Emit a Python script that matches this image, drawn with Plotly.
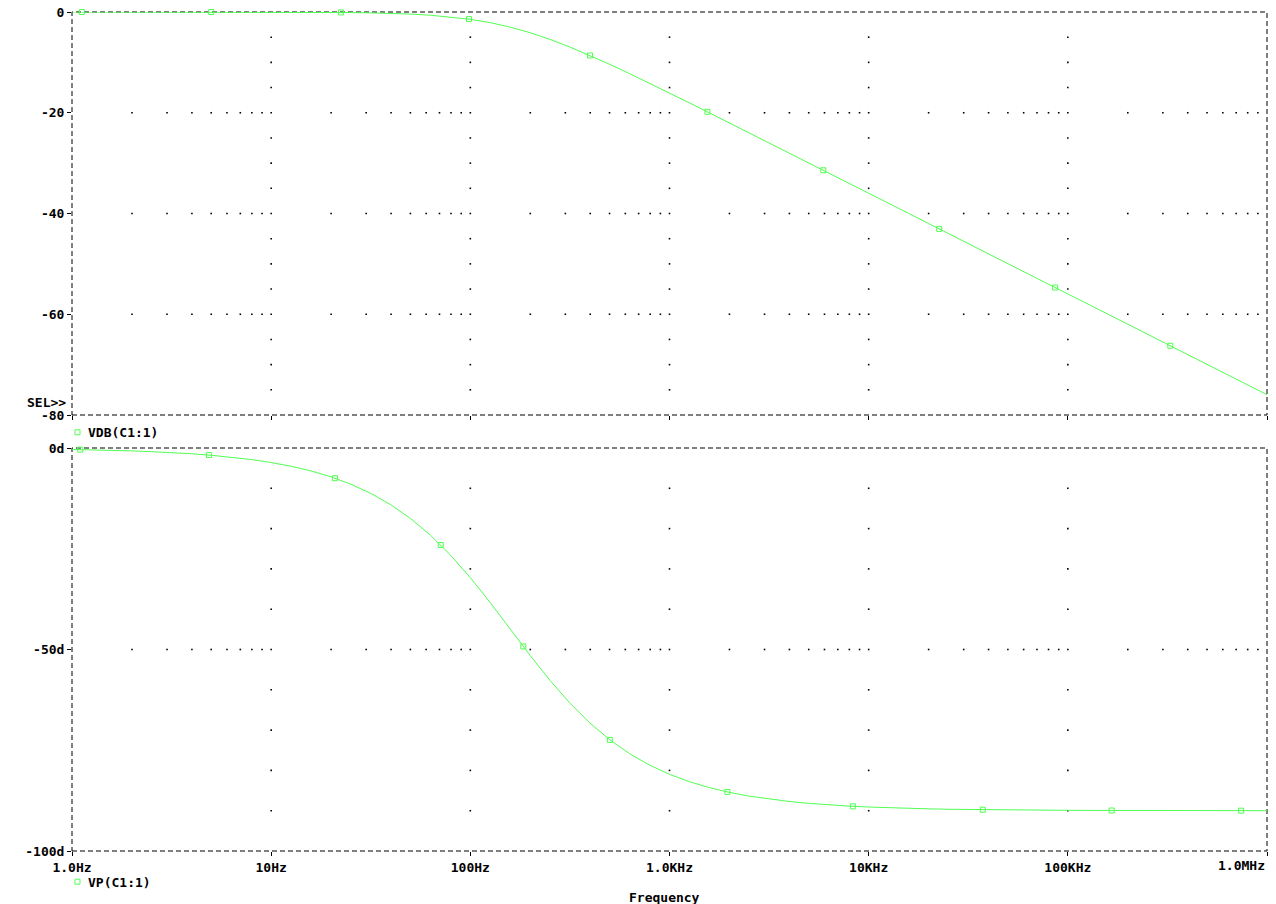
import plotly.graph_objects as go
from plotly.subplots import make_subplots

# ---- data ----
freq_hz = [1, 1.2589, 1.5849, 1.9953, 2.5119, 3.1623, 3.9811, 5.0119, 6.3096, 7.9433,
           10, 12.589, 15.849, 19.953, 25.119, 31.623, 39.811, 50.119, 63.096, 79.433,
           100, 125.89, 158.49, 199.53, 251.19, 316.23, 398.11, 501.19, 630.96, 794.33,
           1000, 1258.9, 1584.9, 1995.3, 2511.9, 3162.3, 3981.1, 5011.9, 6309.6, 7943.3,
           10000, 12589, 15849, 19953, 25119, 31623, 39811, 50119, 63096, 79433,
           100000, 125890, 158490, 199530, 251190, 316230, 398110, 501190, 630960, 794330,
           1000000]
vdb = [-0.00, -0.00, -0.00, -0.00, -0.00, -0.00, -0.00, -0.00, -0.01, -0.01,
       -0.02, -0.03, -0.04, -0.07, -0.11, -0.17, -0.26, -0.41, -0.64, -0.97,
       -1.45, -2.11, -3.00, -4.11, -5.44, -6.95, -8.61, -10.39, -12.24, -14.14,
       -16.08, -18.04, -20.02, -22.00, -23.99, -25.98, -27.98, -29.98, -31.97, -33.97,
       -35.97, -37.97, -39.97, -41.97, -43.97, -45.97, -47.97, -49.97, -51.97, -53.97,
       -55.97, -57.97, -59.97, -61.97, -63.97, -65.97, -67.97, -69.97, -71.97, -73.97,
       -75.97]
vp = [-0.36, -0.45, -0.57, -0.72, -0.91, -1.14, -1.43, -1.81, -2.27, -2.86,
      -3.60, -4.53, -5.69, -7.15, -8.98, -11.25, -14.06, -17.50, -21.65, -26.55,
      -32.17, -38.37, -44.91, -51.45, -57.67, -63.31, -68.23, -72.40, -75.86, -78.68,
      -80.97, -82.80, -84.27, -85.44, -86.38, -87.12, -87.71, -88.18, -88.56, -88.85,
      -89.09, -89.28, -89.43, -89.54, -89.64, -89.71, -89.77, -89.82, -89.86, -89.89,
      -89.91, -89.93, -89.94, -89.95, -89.96, -89.97, -89.98, -89.98, -89.99, -89.99,
      -89.99]

vdb_marker_hz = [1.12, 5.0, 22.4, 98.5, 399, 1550, 5920, 22600, 86300, 327000]
vdb_marker = [-0.00, -0.00, -0.09, -1.41, -8.63, -19.82, -31.42, -43.05, -54.69, -66.26]
vp_marker_hz = [1.1, 4.87, 20.9, 71.0, 184.5, 502, 1953, 8330, 37400, 166000, 741000]
vp_marker = [-0.40, -1.75, -7.49, -24.06, -49.24, -72.43, -85.35, -88.91, -89.76, -89.95, -89.99]

x_tickvals = [1, 10, 100, 1000, 10000, 100000, 1000000]
x_ticktext = ["1.0Hz", "10Hz", "100Hz", "1.0KHz", "10KHz", "100KHz", ""]
top_tickvals = [0, -20, -40, -60, -80]
top_ticktext = ["0", "-20", "-40", "-60", "-80"]
bot_tickvals = [0, -50, -100]
bot_ticktext = ["0d", "-50d", "-100d"]
minor_mult = [2, 3, 4, 5, 6, 7, 8, 9, 10]

GREEN = "#50ff50"
FONT = dict(family="DejaVu Sans Mono", size=13, color="black", weight="bold")

W, H = 1276, 904
L, R, T, B = 72, 9, 12, 53
PW, PH = W - L - R, H - T - B


def px(x):
    return (x - L) / PW


def py(y):
    return (H - B - y) / PH


top_dom = [py(415), 1.0]
bot_dom = [0.0, py(448)]

fig = make_subplots(rows=2, cols=1, shared_xaxes=False)

# grid dots (PSpice style: dots at intersections of minor/major grids)
minor_x = [m * d for d in x_tickvals[:-1] for m in minor_mult if m * d < 1000000]
major_x_inner = x_tickvals[1:-1]


def grid_dots(row, major_y, minor_y):
    gx, gy = [], []
    for yv in major_y:
        for xv in minor_x:
            gx.append(xv)
            gy.append(yv)
    for xv in major_x_inner:
        for yv in minor_y:
            gx.append(xv)
            gy.append(yv)
    fig.add_trace(go.Scatter(x=gx, y=gy, mode="markers", hoverinfo="skip",
                             marker=dict(symbol="square", size=1.6, color="black",
                                         line=dict(width=0)),
                             showlegend=False), row=row, col=1)


grid_dots(1, [-20, -40, -60], [v for v in range(-75, 0, 5) if v % 20 != 0])
grid_dots(2, [-50], [v for v in range(-90, 0, 10) if v != -50])

fig.add_trace(go.Scatter(x=freq_hz, y=vdb, mode="lines", line=dict(color=GREEN, width=1),
                         cliponaxis=False, showlegend=False), row=1, col=1)
fig.add_trace(go.Scatter(x=vdb_marker_hz, y=vdb_marker, mode="markers", cliponaxis=False,
                         marker=dict(symbol="square-open", size=5, color=GREEN,
                                     line=dict(width=1, color=GREEN)),
                         showlegend=False), row=1, col=1)
fig.add_trace(go.Scatter(x=freq_hz, y=vp, mode="lines", line=dict(color=GREEN, width=1),
                         cliponaxis=False, showlegend=False), row=2, col=1)
fig.add_trace(go.Scatter(x=vp_marker_hz, y=vp_marker, mode="markers", cliponaxis=False,
                         marker=dict(symbol="square-open", size=5, color=GREEN,
                                     line=dict(width=1, color=GREEN)),
                         showlegend=False), row=2, col=1)

axis_common = dict(showgrid=False, zeroline=False, showline=False, ticks="outside",
                   ticklen=4, tickwidth=1, tickcolor="black", tickfont=FONT)

fig.update_xaxes(type="log", range=[0, 6], tickvals=x_tickvals, **axis_common)
fig.update_layout(
    xaxis=dict(domain=[0, 1], showticklabels=False),
    xaxis2=dict(domain=[0, 1], ticktext=x_ticktext),
    yaxis=dict(domain=top_dom, range=[-80, 0], tickvals=top_tickvals,
               ticktext=top_ticktext, **axis_common),
    yaxis2=dict(domain=bot_dom, range=[-100, 0], tickvals=bot_tickvals,
                ticktext=bot_ticktext, **axis_common),
)

shapes = []
for xr, yr in (("x domain", "y domain"), ("x2 domain", "y2 domain")):
    shapes.append(dict(type="rect", xref=xr, yref=yr, x0=0, x1=1, y0=0, y1=1,
                       line=dict(color="black", width=1, dash="5px,3px"), layer="below"))
for cy in (432.3, 881.7):
    shapes.append(dict(type="rect", xref="paper", yref="paper",
                       x0=px(75), x1=px(80), y0=py(cy + 2.5), y1=py(cy - 2.5),
                       line=dict(color=GREEN, width=1)))

annotations = [
    dict(text="SEL>>", xref="paper", yref="paper", x=px(68), y=py(402),
         xanchor="right", yanchor="middle", showarrow=False, font=FONT),
    dict(text="VDB(C1:1)", xref="paper", yref="paper", x=px(86), y=py(432),
         xanchor="left", yanchor="middle", showarrow=False, font=FONT),
    dict(text="VP(C1:1)", xref="paper", yref="paper", x=px(86), y=py(882.5),
         xanchor="left", yanchor="middle", showarrow=False, font=FONT),
    dict(text="Frequency", xref="paper", yref="paper", x=px(664), y=py(897),
         xanchor="center", yanchor="middle", showarrow=False, font=FONT),
    dict(text="1.0MHz", xref="x2", yref="paper", x=6, y=py(865.5),
         xanchor="right", yanchor="middle", showarrow=False, font=FONT),
]

fig.update_layout(width=W, height=H, margin=dict(l=L, r=R, t=T, b=B, autoexpand=False),
                  paper_bgcolor="white", plot_bgcolor="white", font=FONT,
                  shapes=shapes, annotations=annotations, showlegend=False,
                  hovermode=False)

# remove the default 8px page margin so the figure sits at the window's top-left corner
fig.write_html("out.html", config={"displayModeBar": False},
               post_script="document.body.style.margin='0';document.body.style.overflow='hidden';")
